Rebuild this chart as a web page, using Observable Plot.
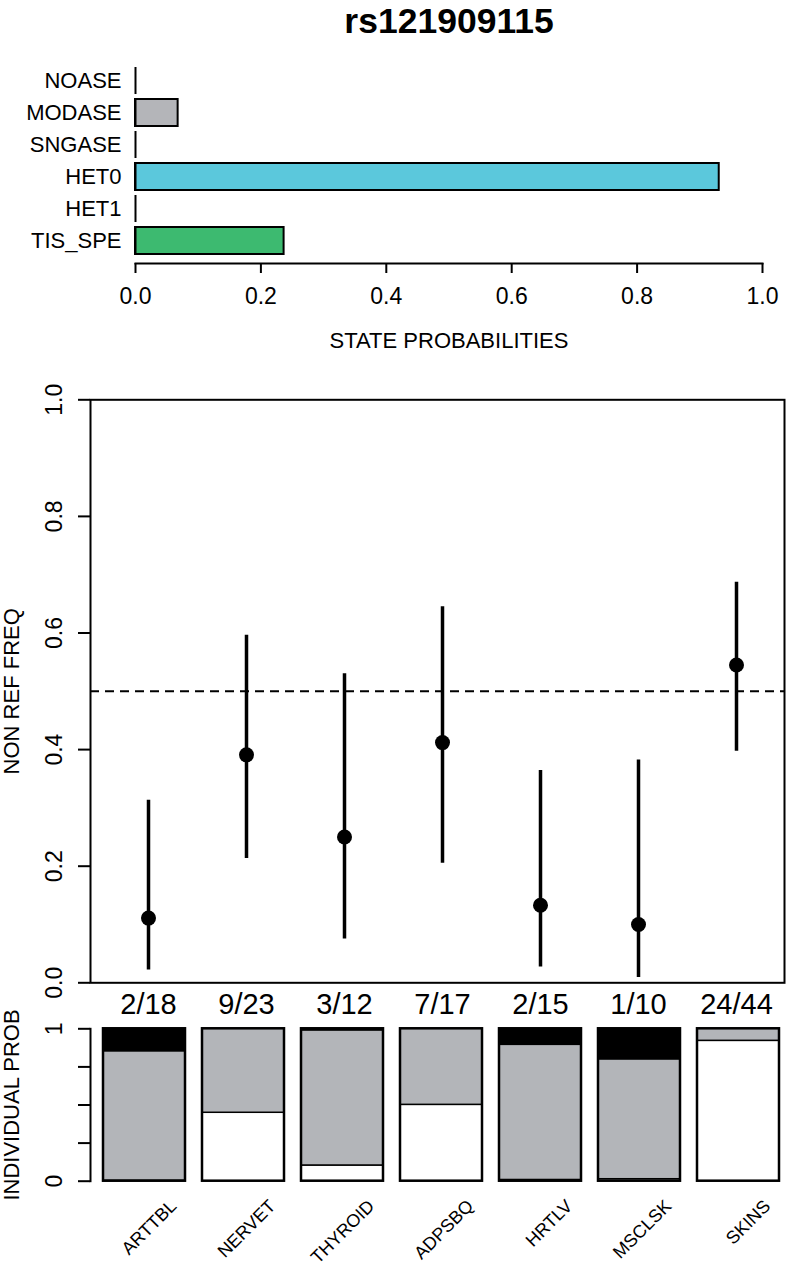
<!DOCTYPE html>
<html><head><meta charset="utf-8">
<script src="https://cdn.jsdelivr.net/npm/d3@7"></script>
<script src="https://cdn.jsdelivr.net/npm/@observablehq/plot@0.6"></script>
<style>
body{margin:0;background:#fff;}
#root{position:relative;width:786px;height:1269px;overflow:hidden;background:#fff;}
#root svg{position:absolute;left:0;}
</style></head><body><div id="root"></div>
<script>
// ---- data ----
const title = "rs121909115";
const states = ["NOASE","MODASE","SNGASE","HET0","HET1","TIS_SPE"];
const stateProb = [0, 0.068, 0, 0.931, 0, 0.237];
const stateColor = ["#FFFFFF","#B4B5B9","#FFFFFF","#5BC8DC","#FFFFFF","#3DBA70"];
const probTicks = [0, 0.2, 0.4, 0.6, 0.8, 1.0];

const tissues = ["ARTTBL","NERVET","THYROID","ADPSBQ","HRTLV","MSCLSK","SKINS"];
const counts = ["2/18","9/23","3/12","7/17","2/15","1/10","24/44"];
const freq = [0.111, 0.391, 0.250, 0.412, 0.133, 0.100, 0.545];
const freqLo = [0.022, 0.213, 0.075, 0.205, 0.027, 0.009, 0.397];
const freqHi = [0.313, 0.596, 0.530, 0.645, 0.364, 0.382, 0.687];
const freqTicks = [0, 0.2, 0.4, 0.6, 0.8, 1.0];

const indStates = ["REF","HET","ALT"];
const indColors = ["#FFFFFF","#B3B5B9","#000000"];
const probRef = [0.003, 0.449, 0.103, 0.501, 0.008, 0.013, 0.921];
const probHet = [0.850, 0.551, 0.887, 0.499, 0.887, 0.787, 0.079];
const probAlt = [0.147, 0.000, 0.010, 0.000, 0.105, 0.200, 0.000];
const indTicks = [0, 0.25, 0.5, 0.75, 1];
const indTickLabels = [0, 1];

// ---- tables ----
const FONT = '"Liberation Sans", Arial, Helvetica, sans-serif';
const topData = states.map((s, i) => ({state: s, p: stateProb[i], color: stateColor[i]}));
const midData = tissues.map((t, i) => ({tissue: t, freq: freq[i], lo: freqLo[i], hi: freqHi[i], count: counts[i]}));
const botData = [];
tissues.forEach((t, i) => {
  botData.push({tissue: t, state: "REF", value: probRef[i]});
  botData.push({tissue: t, state: "HET", value: probHet[i]});
  botData.push({tissue: t, state: "ALT", value: probAlt[i]});
});
const root = document.getElementById("root");
const baseStyle = {fontFamily: FONT, background: "transparent", color: "black", overflow: "visible"};

// ---- top: state probabilities ----
const p1 = Plot.plot({
  width: 786, height: 360,
  marginLeft: 135, marginRight: 24, marginTop: 64, marginBottom: 97,
  style: baseStyle,
  x: {domain: [0, 1]},
  y: {domain: states, range: [64.4, 257.6], paddingInner: 0.15, paddingOuter: 0.075},
  color: {type: "identity"},
  marks: [
    Plot.barX(topData.filter(d => d.p > 0), {y: "state", x1: 0, x2: "p", fill: "color", stroke: "black", strokeWidth: 2}),
    Plot.tickX(topData, {y: "state", x: 0, stroke: "black", strokeWidth: 2}),
    Plot.frame({anchor: "bottom", strokeWidth: 2}),
    Plot.axisX({ticks: probTicks, tickFormat: d3.format(".1f"), tickSize: 10, tickPadding: 14, fontSize: 23, label: null, strokeWidth: 2}),
    Plot.axisY({tickSize: 0, tickPadding: 14, fontSize: 22, label: null}),
    Plot.text(["STATE PROBABILITIES"], {x: [0.5], text: d => d, frameAnchor: "bottom", dy: 84, fontSize: 22}),
    Plot.text([title], {x: [0.5], text: d => d, frameAnchor: "top", dy: 32 - 64, lineAnchor: "bottom", fontSize: 35.5, fontWeight: "bold"})
  ]
});
p1.style.top = "0px";
root.appendChild(p1);

// ---- middle: non ref freq ----
const p2 = Plot.plot({
  width: 786, height: 660,
  marginLeft: 90, marginRight: 2, marginTop: 39.3, marginBottom: 37.7,
  style: baseStyle,
  x: {type: "point", domain: tissues, padding: 0.53, align: 0.55, axis: null},
  y: {domain: [0, 1]},
  marks: [
    Plot.ruleY([0.5], {strokeDasharray: "9,6", strokeWidth: 2}),
    Plot.ruleX(midData, {x: "tissue", y1: "lo", y2: "hi", strokeWidth: 3.5}),
    Plot.dot(midData, {x: "tissue", y: "freq", r: 7.5, fill: "black", stroke: "none"}),
    Plot.frame({strokeWidth: 2}),
    Plot.axisY({ticks: freqTicks, tickSize: 12, tickFormat: () => "", label: null, strokeWidth: 2}),
    Plot.text(freqTicks, {y: d => d, text: d => d3.format(".1f")(d), frameAnchor: "left", textAnchor: "middle", dx: -36, rotate: -90, fontSize: 23}),
    Plot.text(midData, {x: "tissue", text: "count", frameAnchor: "bottom", dy: 31, fontSize: 29}),
    Plot.text(["NON REF FREQ"], {text: d => d, frameAnchor: "left", textAnchor: "middle", dx: -79, rotate: -90, fontSize: 22})
  ]
});
p2.style.top = "360px";
root.appendChild(p2);

// ---- bottom: individual prob ----
const p3 = Plot.plot({
  width: 786, height: 249,
  marginLeft: 90, marginRight: 2, marginTop: 8.3, marginBottom: 88.3,
  style: baseStyle,
  x: {type: "band", domain: tissues, range: [91.65, 790.05], paddingInner: 0.167, paddingOuter: 0.0835, axis: null},
  y: {domain: [0, 1]},
  color: {domain: indStates, range: indColors},
  marks: [
    Plot.barY(botData, {x: "tissue", y: "value", fill: "state", stroke: "black", strokeWidth: 1.5}),
    Plot.barY(tissues, {x: d => d, y1: 0, y2: 1, fill: "none", stroke: "black", strokeWidth: 2.5}),
    Plot.frame({anchor: "left", strokeWidth: 2}),
    Plot.axisY({ticks: indTicks, tickSize: 12, tickFormat: () => "", label: null, strokeWidth: 2}),
    Plot.text(indTickLabels, {y: d => d, text: d => String(d), frameAnchor: "left", textAnchor: "middle", dx: -36, rotate: -90, fontSize: 23}),
    Plot.text(tissues, {x: d => d, text: d => d, frameAnchor: "bottom", dx: 33, dy: 26, rotate: -45, textAnchor: "end", lineAnchor: "bottom", fontSize: 18}),
    Plot.text(["INDIVIDUAL PROB"], {text: d => d, frameAnchor: "left", textAnchor: "middle", dx: -79, rotate: -90, fontSize: 22})
  ]
});
p3.style.top = "1020px";
root.appendChild(p3);
</script>
</body></html>
